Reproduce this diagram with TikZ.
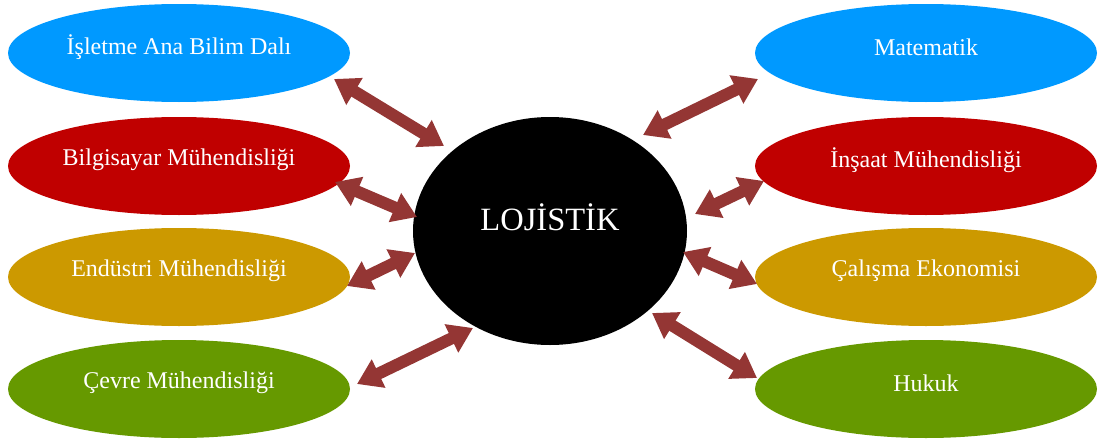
\documentclass[tikz,border=0pt]{standalone}
\usepackage{fontspec}
\setmainfont{Liberation Serif}
\usetikzlibrary{shapes.geometric,arrows.meta}
\definecolor{cblue}{RGB}{0,153,255}
\definecolor{cred}{RGB}{192,0,0}
\definecolor{cgold}{RGB}{204,153,0}
\definecolor{cgreen}{RGB}{102,153,0}
\definecolor{carrow}{RGB}{148,54,52}
\begin{document}
\begin{tikzpicture}[x=1pt,y=-1pt,
  field/.style={ellipse,minimum width=342pt,minimum height=98pt,inner sep=0pt},
  fieldtext/.style={text=white,inner sep=0pt,font=\fontsize{24}{28}\selectfont},
  link/.style={carrow,line width=12pt,{Triangle[width=30pt,length=24pt]}-{Triangle[width=30pt,length=24pt]}}]
\useasboundingbox (0,0) rectangle (1101,439);
% left
\node[field,fill=cblue] (isl) at (179,53) {};
\node[field,fill=cred] (bil) at (179,166) {};
\node[field,fill=cgold] (end) at (179,277) {};
\node[field,fill=cgreen] (cev) at (179,389) {};
% right
\node[field,fill=cblue] (mat) at (926,53) {};
\node[field,fill=cred] (ins) at (926,166) {};
\node[field,fill=cgold] (cal) at (926,277) {};
\node[field,fill=cgreen] (huk) at (926,389) {};
\node[fieldtext] (islt) at ([yshift=6pt]isl.center) {İşletme Ana Bilim Dalı};
\node[fieldtext] (bilt) at ([yshift=6pt]bil.center) {Bilgisayar Mühendisliği};
\node[fieldtext] (endt) at ([yshift=6pt]end.center) {Endüstri Mühendisliği};
\node[fieldtext] (cevt) at ([yshift=6pt]cev.center) {Çevre Mühendisliği};
\node[fieldtext] (matt) at ([yshift=6pt]mat.center) {Matematik};
\node[fieldtext] (inst) at ([yshift=6pt]ins.center) {İnşaat Mühendisliği};
\node[fieldtext] (calt) at ([yshift=6pt]cal.center) {Çalışma Ekonomisi};
\node[fieldtext] (hukt) at ([yshift=6pt]huk.center) {Hukuk};
% center
\node[ellipse,fill=black,minimum width=274pt,minimum height=228pt,inner sep=0pt] (loj) at (550,231) {};
\node[fieldtext,font=\fontsize{32.5}{38}\selectfont] (lojt) at ([yshift=14pt]loj.center) {LOJİSTİK};
% arrow ends
\coordinate (a1) at (334,79);  \coordinate (b1) at (444,146);
\coordinate (a2) at (335,182); \coordinate (b2) at (417,217);
\coordinate (a3) at (347,286); \coordinate (b3) at (415,253);
\coordinate (a4) at (357,384); \coordinate (b4) at (473,328);
\coordinate (a5) at (758,79);  \coordinate (b5) at (643,135);
\coordinate (a6) at (764,181); \coordinate (b6) at (695,214);
\coordinate (a7) at (757,284); \coordinate (b7) at (683,252);
\coordinate (a8) at (757,378); \coordinate (b8) at (652,313);
\foreach \i in {1,...,8} {\draw[link] (a\i) -- (b\i);}
\end{tikzpicture}
\end{document}
